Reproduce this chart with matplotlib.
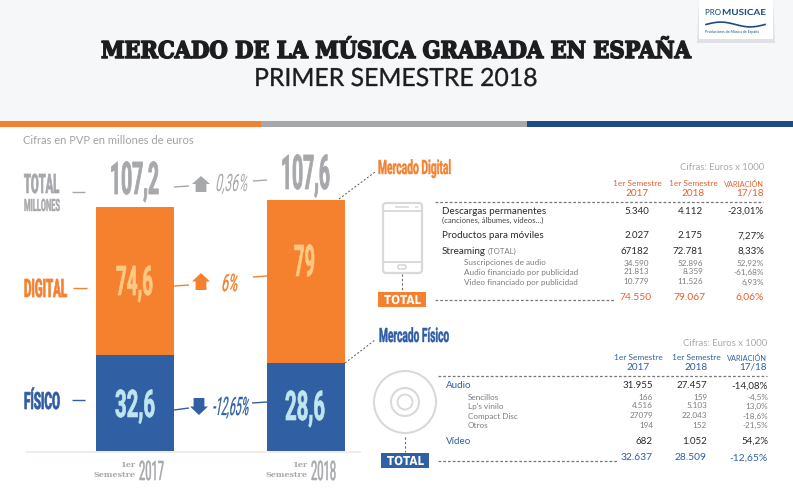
import numpy as np
import matplotlib
matplotlib.use('Agg')
import matplotlib.pyplot as plt
from matplotlib.patches import Rectangle, Circle, FancyBboxPatch, Polygon
from matplotlib.patheffects import AbstractPathEffect
from matplotlib.transforms import Affine2D

# Data
anios = ['2017', '2018']
fisico = [32.6, 28.6]
digital = [74.6, 79.0]
total = [107.2, 107.6]

dig_filas = ['Descargas permanentes', 'Productos para móviles', 'Streaming']
dig_2017 = ['5.340', '2.027', '67182']
dig_2018 = ['4.112', '2.175', '72.781']
dig_var = ['-23,01%', '7,27%', '8,33%']
dig_sub = ['Suscripciones de audio', 'Audio financiado por publicidad', 'Video financiado por publicidad']
dig_sub_2017 = ['34.590', '21.813', '10.779']
dig_sub_2018 = ['52.896', '8.359', '11.526']
dig_sub_var = ['52,92%', '-61,68%', '6,93%']
dig_total = ['74.550', '79.067', '6,06%']

fis_sub = ['Sencillos', "Lp's vinilo", 'Compact Disc', 'Otros']
fis_sub_2017 = ['166', '4.516', '27079', '194']
fis_sub_2018 = ['159', '5.103', '22.043', '152']
fis_sub_var = ['-4,5%', '13,0%', '-18,6%', '-21,5%']
fis_audio = ['31.955', '27.457', '-14,08%']
fis_video = ['682', '1.052', '54,2%']
fis_total = ['32.637', '28.509', '-12,65%']

NARANJA = '#f5802e'
AZUL = '#3060a3'
GRIS = '#a7a8ab'
ROJIZO = '#e8602c'
TEXTO = '#2b2b2b'
SUAVE = '#7d7d7d'


class Alto(AbstractPathEffect):
    """Stretch, slant and thicken the glyphs of a text"""
    def __init__(self, sy=1.0, skew=0, grosor=0):
        super().__init__()
        self.sy, self.skew, self.grosor = sy, skew, grosor

    def draw_path(self, renderer, gc, tpath, affine, rgbFace=None):
        aff = Affine2D().scale(1, self.sy).skew_deg(self.skew, 0) + affine
        gc0 = renderer.new_gc()
        gc0.copy_properties(gc)
        if self.grosor:
            gc0.set_linewidth(self.grosor)
            gc0.set_foreground(rgbFace)
        renderer.draw_path(gc0, tpath, aff, rgbFace)
        gc0.restore()


fig = plt.figure(figsize=(7.93, 4.88), dpi=100, facecolor='white')

# the original does not draw its segments to one scale, so the axis follows it
px_y = [0, 88, 96, 244, 251]
val_y = [0, 28.6, 32.6, 107.2, 107.6]
def val_a_px(v):
    return np.interp(v, val_y, px_y)
def px_a_val(p):
    return np.interp(p, px_y, val_y)

ax = fig.add_axes([96 / 793, 37 / 488, 249 / 793, 251 / 488])
ax.set_yscale('function', functions=(val_a_px, px_a_val))
ax.bar(range(2), fisico, width=0.456, color=AZUL)
ax.bar(range(2), digital, width=0.456, bottom=fisico, color=NARANJA)
ax.set_xlim(-0.228, 1.228)
ax.set_ylim(0, 107.6)
ax.axis('off')

# everything else goes on an overlay in pixels
ov = fig.add_axes([0, 0, 1, 1], zorder=3)
ov.set_xlim(0, 793)
ov.set_ylim(488, 0)
ov.axis('off')
renderer = fig.canvas.get_renderer()


def ajustado(s, x0, x1, y0, y1, color, family='Roboto', weight='bold', skew=0, grosor=0.0, cap=0.71):
    """Text fitted to the box x0-x1, caps from y0 down to the baseline y1"""
    t = ov.text(x0, y1, s, color=color, family=family, weight=weight, ha='left', va='baseline', fontsize=20)
    size = 20 * (x1 - x0) / t.get_window_extent(renderer).width
    t.set_fontsize(size)
    t.set_path_effects([Alto((y1 - y0) / (size / 0.72 * cap), skew, grosor)])
    return t


def txt(x, y, s, size=7.0, color=TEXTO, ha='left', **kw):
    return ov.text(x, y, s, fontsize=size, color=color, ha=ha, va='center', family='Lato', **kw)


def raya(x0, y0, x1, y1, color, lw=1.0, **kw):
    ov.plot([x0, x1], [y0, y1], color=color, lw=lw, solid_capstyle='butt', **kw)


# Header
ov.add_patch(Rectangle((0, 0), 793, 121, color='#f6f7f9', lw=0))
ov.add_patch(Rectangle((0, 121), 261, 6, color=NARANJA, lw=0))
ov.add_patch(Rectangle((261, 121), 266, 6, color=GRIS, lw=0))
ov.add_patch(Rectangle((527, 121), 266, 6, color='#1f4b85', lw=0))
ajustado('MERCADO DE LA MÚSICA GRABADA EN ESPAÑA', 101, 690, 41, 58, '#1d1d1f',
         family='DejaVu Serif', cap=0.73, grosor=1.1)
ajustado('PRIMER SEMESTRE 2018', 254, 537, 68, 86, '#1d1d1f', family='Lato', weight='normal', cap=0.72, grosor=0.25)

# Logo
ov.add_patch(Polygon([(697, 43), (699, 0), (773, 0), (775, 43)], color='#dfe1e4', lw=0))
ov.add_patch(Rectangle((699, 0), 74, 39, color='white', lw=0))
ajustado('PRO', 705, 721, 9, 15, '#1f4b85', family='Lato', weight='normal', cap=0.72)
ajustado('MUSICAE', 722, 766, 9, 15, '#1f4b85', family='Lato', cap=0.72)
xw = np.linspace(706, 765, 40)
ov.plot(xw, 24.5 - 2.4 * np.sin((xw - 706) / 59 * 2 * np.pi), color='#1f4b85', lw=1.2, zorder=4)
ov.text(705, 32.5, 'Productores de Música de España', fontsize=2.6, color='#1f4b85', family='Lato', va='center')

txt(23, 141, 'Cifras en PVP en millones de euros', size=8.0, color='#a3a3a3')

# Left labels
ajustado('TOTAL', 24, 59, 174, 193, GRIS, grosor=0.5)
ajustado('MILLONES', 24, 60, 199, 211, GRIS, grosor=0.3)
ajustado('DIGITAL', 24, 67, 279, 297, NARANJA, grosor=0.5)
ajustado('FÍSICO', 24, 60, 390, 409, '#2f5ca5', cap=0.8, grosor=0.5)
raya(72, 192, 85, 192, GRIS)
raya(73, 288, 87, 288, NARANJA)
raya(72, 400, 85, 400, AZUL)

# Values on the bars
ajustado(str(total[0]).replace('.', ','), 110, 159, 162, 194, GRIS, grosor=0.6)
ajustado(str(total[1]).replace('.', ','), 281, 330, 155, 189, GRIS, grosor=0.6)
ajustado(str(digital[0]).replace('.', ','), 116, 153, 266, 295, '#fcc882', grosor=0.5)
ajustado(str(int(digital[1])), 294, 315, 245, 276, '#fcc882', grosor=0.5)
ajustado(str(fisico[0]).replace('.', ','), 115, 155, 390, 417, '#bfe6ee', grosor=0.5)
ajustado(str(fisico[1]).replace('.', ','), 285, 325, 391, 420, '#bfe6ee', grosor=0.5)

# Change between the two bars
def flecha(x0, x1, y0, y1, color, arriba=True):
    xm = (x0 + x1) / 2
    sx = (x1 - x0) * 0.3
    if arriba:
        ym = y0 + (y1 - y0) * 0.5
        pts = [(xm, y0), (x1, ym), (xm + sx, ym), (xm + sx, y1), (xm - sx, y1), (xm - sx, ym), (x0, ym)]
    else:
        ym = y1 - (y1 - y0) * 0.5
        pts = [(xm, y1), (x1, ym), (xm + sx, ym), (xm + sx, y0), (xm - sx, y0), (xm - sx, ym), (x0, ym)]
    ov.add_patch(Polygon(pts, color=color, lw=0))

raya(174, 187, 189, 186, GRIS)
flecha(192, 210, 176, 192, GRIS)
ajustado('0,36%', 215, 247, 174, 191, GRIS, weight='normal', skew=10)
raya(253, 181, 267, 180, GRIS)

raya(174, 286, 189, 285, NARANJA)
flecha(192, 210, 273, 290, NARANJA)
ajustado('6%', 221, 237, 274, 291, NARANJA, weight='normal', skew=10, grosor=0.3)
raya(253, 277, 267, 276, NARANJA)

raya(174, 410, 189, 408, AZUL)
flecha(190, 208, 398, 415, AZUL, arriba=False)
ajustado('-12,65%', 212, 248, 397, 415, AZUL, weight='normal', skew=10, grosor=0.2)
raya(252, 403, 267, 402, AZUL)

# Axis line and year labels
raya(26, 451.5, 361, 451.5, '#f0e8e4', lw=1.2)
for x_der, anio in zip([136, 308], anios):
    ov.text(x_der, 465, '1er', fontsize=5.8, color=GRIS, family='DejaVu Serif', weight='bold', ha='right', va='center')
    ov.text(x_der, 475, 'Semestre', fontsize=5.8, color=GRIS, family='DejaVu Serif', weight='bold', ha='right', va='center')
    ajustado(anio, x_der + 3, x_der + 28, 461, 480, GRIS, weight='normal', grosor=0.4)

# Connectors to the tables
ov.plot([339, 375], [199, 172], color='#555555', lw=0.7, ls=(0, (2, 2)))
ov.plot([345, 375], [363, 340], color='#555555', lw=0.7, ls=(0, (2, 2)))
ajustado('Mercado Digital', 378, 451, 160, 174, NARANJA, cap=0.71, grosor=0.3)
ajustado('Mercado Físico', 379, 449, 328, 342, '#2f5ca5', cap=0.71, grosor=0.3)


def cabecera(y0, yanio, cen1, cen2, der3, color):
    for cen, anio in zip([cen1, cen2], anios):
        txt(cen, y0, '1er Semestre', size=6, color=color, ha='center')
        txt(cen, yanio, anio, size=7.2, color=color, ha='center')
    txt(der3, y0, 'VARIACIÓN', size=5.3, color=color, ha='right')
    txt(der3, yanio, '17/18', size=7.2, color=color, ha='right')


def fila(y, nums, cols, size=7.0, color=TEXTO, **kw):
    for x, n in zip(cols, nums):
        txt(x, y, n, size=size, color=color, ha='right', **kw)


# Digital table
txt(764, 167, 'Cifras: Euros x 1000', size=6.8, color='#a9a9a9', ha='right')
cabecera(184, 193, 637, 693, 764, ROJIZO)
raya(435, 202, 763, 202, '#777777', lw=0.9, ls=(0, (2.2, 1.6)))
cols_d = [649, 703, 764]
for y, nombre, a, b, c in zip([211, 236, 251], dig_filas, dig_2017, dig_2018, dig_var):
    txt(442, y, nombre, size=7.1)
    fila(y, [a, b, c], cols_d)
txt(442, 220.5, '(canciones, álbumes, vídeos...)', size=5.6, color='#444444')
txt(488, 251, '(TOTAL)', size=5.6, color=SUAVE)
for y, nombre, a, b, c in zip([263, 272, 282], dig_sub, dig_sub_2017, dig_sub_2018, dig_sub_var):
    txt(464, y, nombre, size=5.85, color=SUAVE)
    fila(y, [a, b, c], cols_d, size=5.85, color=SUAVE)
raya(435, 300, 614, 300, '#777777', lw=0.9, ls=(0, (2.2, 1.6)))
fila(297, dig_total, [652, 706, 764], size=7.4, color=ROJIZO)

# Phone icon
gris_icono = '#d9d9d9'
ov.add_patch(FancyBboxPatch((385, 205), 35, 66, boxstyle='round,pad=2,rounding_size=3', fc='none', ec=gris_icono, lw=1.6))
raya(383, 211, 422, 211, gris_icono, lw=1.4)
raya(383, 262, 422, 262, gris_icono, lw=1.4)
raya(395, 207, 409, 207, gris_icono, lw=1.2)
raya(415, 207, 418, 207, gris_icono, lw=1.2)
ov.add_patch(FancyBboxPatch((399, 266), 6, 2, boxstyle='round,pad=1,rounding_size=1.5', fc='none', ec=gris_icono, lw=1.2))
ov.plot([402, 402], [274, 291], color='#666666', lw=0.8, ls=(0, (2, 2)))
ov.add_patch(Rectangle((378, 292), 48, 15, color=NARANJA, lw=0))
ajustado('TOTAL', 384, 421, 295, 304, 'white', family='DejaVu Sans', cap=0.73)

# Physical table
txt(767, 343, 'Cifras: Euros x 1000', size=6.8, color='#a9a9a9', ha='right')
cabecera(358, 367, 638, 696, 767, AZUL)
raya(438, 376, 767, 376, '#777777', lw=0.9, ls=(0, (2.2, 1.6)))
cols_f = [653, 707, 768]
txt(446, 386, 'Audio', size=7.1, color=AZUL)
fila(386, fis_audio, cols_f)
for y, nombre, a, b, c in zip([397, 406, 416, 425], fis_sub, fis_sub_2017, fis_sub_2018, fis_sub_var):
    txt(468, y, nombre, size=5.85, color=SUAVE)
    fila(y, [a, b, c], cols_f, size=5.85, color=SUAVE)
txt(446, 441, 'Vídeo', size=7.1, color=AZUL)
fila(441, fis_video, cols_f)
raya(438, 461, 617, 461, '#777777', lw=0.9, ls=(0, (2.2, 1.6)))
fila(458, fis_total, cols_f, size=7.4, color=AZUL)

# CD icon
ov.add_patch(Circle((405, 402), 31, fc='none', ec=gris_icono, lw=1.5))
ov.add_patch(Circle((405, 402), 14, fc='none', ec=gris_icono, lw=1.5))
ov.add_patch(Circle((405, 402), 7.5, fc='none', ec=gris_icono, lw=1.4))
ov.plot([405, 405], [437, 452], color='#666666', lw=0.8, ls=(0, (2, 2)))
ov.add_patch(Rectangle((381, 453), 48, 15, color=AZUL, lw=0))
ajustado('TOTAL', 387, 424, 456, 465, 'white', family='DejaVu Sans', cap=0.73)

fig.savefig('out.png', dpi=100)
